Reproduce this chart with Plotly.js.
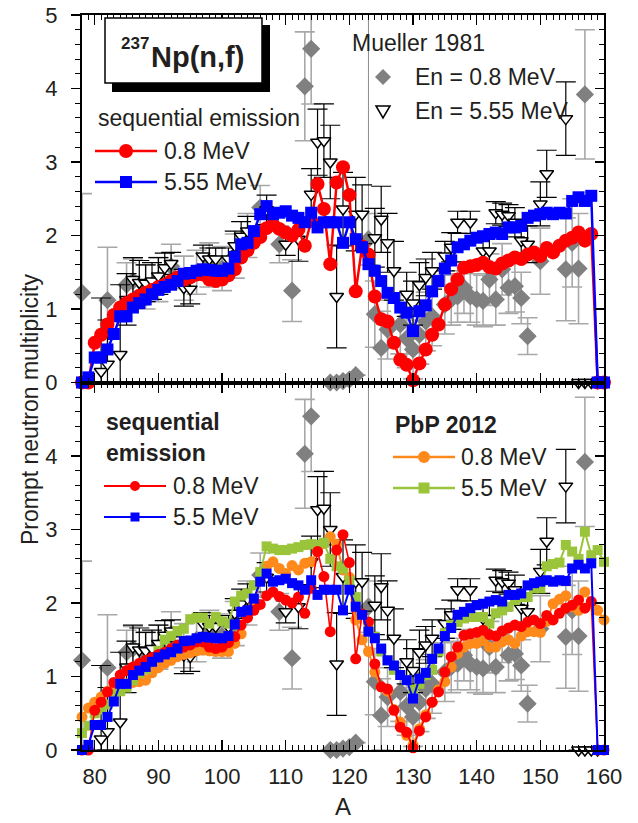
<!DOCTYPE html>
<html>
<head>
<meta charset="utf-8">
<script src="https://cdn.plot.ly/plotly-3.0.1.min.js"></script>
<style>html,body{margin:0;padding:0;background:#fff;}#chart{width:638px;height:823px;}</style>
</head>
<body>
<div id="chart"></div>
<script>
// ---------------- DATA ----------------
const massA = [78,79,80,81,82,83,84,85,86,87,88,89,90,91,92,93,94,95,96,97,98,99,100,101,102,103,104,105,106,107,108,109,110,111,112,113,114,115,116,117,118,119,120,121,122,123,124,125,126,127,128,129,130,131,132,133,134,135,136,137,138,139,140,141,142,143,144,145,146,147,148,149,150,151,152,153,154,155,156,157,158,159,160];

// sequential emission, En = 0.8 MeV (red)
const seq08 = [0,0,0.54,0.65,0.79,0.92,1.02,1.08,1.13,1.18,1.22,1.26,1.30,1.33,1.38,1.43,1.40,1.43,1.47,1.47,1.40,1.38,1.40,1.46,1.54,1.70,1.80,1.90,1.98,2.10,2.15,2.09,2.04,2.00,2.08,1.86,2.20,2.70,2.36,1.61,2.72,2.93,2.55,1.24,1.85,1.74,1.17,0.86,0.83,0.54,0.31,0.24,0.03,0.26,0.45,0.65,0.79,1.06,1.27,1.40,1.56,1.58,1.60,1.63,1.57,1.55,1.62,1.66,1.70,1.68,1.74,1.77,1.72,1.83,1.77,1.86,1.93,1.97,2.04,1.93,2.02,0,0];

// sequential emission, En = 5.55 MeV (blue)
const seq55 = [0,0.07,0.34,0.34,0.45,0.66,0.90,0.90,1.02,1.08,1.13,1.20,1.26,1.30,1.33,1.38,1.48,1.49,1.52,1.54,1.53,1.52,1.52,1.55,1.71,1.88,1.90,2.06,2.29,2.40,2.29,2.31,2.33,2.27,2.24,2.18,2.31,2.11,2.18,2.18,2.18,1.90,2.18,1.95,1.84,1.61,1.52,1.38,1.22,1.15,1.02,0.95,0.70,0.97,1.05,1.24,1.38,1.55,1.66,1.84,1.88,1.93,1.97,1.99,2.02,2.04,2.02,2.11,2.11,2.13,2.24,2.27,2.29,2.31,2.29,2.31,2.30,2.47,2.52,2.47,2.54,0,0];

// PbP 2012, En = 0.8 MeV (orange)
const pbp08 = [0.45,0.57,0.65,0.72,0.80,0.86,0.88,0.90,0.92,0.93,0.95,1.05,1.12,1.18,1.22,1.27,1.30,1.32,1.35,1.36,1.35,1.34,1.34,1.34,1.45,1.58,1.85,2.00,2.30,2.50,2.56,2.47,2.40,2.51,2.45,2.54,2.56,2.70,2.81,2.90,2.80,2.45,2.35,1.77,1.50,1.34,1.06,0.86,0.80,0.55,0.38,0.20,0.07,0.29,0.48,0.65,0.82,0.93,1.13,1.31,1.40,1.45,1.45,1.49,1.40,1.40,1.47,1.50,1.45,1.55,1.61,1.61,1.60,1.75,1.99,2.05,2.10,1.95,1.90,2.15,2.00,1.90,1.77];

// PbP 2012, En = 5.5 MeV (green)
const pbp55 = [0.23,0.33,0.50,0.55,0.62,0.75,0.80,0.85,0.95,1.05,1.10,1.20,1.35,1.50,1.55,1.62,1.65,1.78,1.80,1.80,1.72,1.81,1.75,1.72,2.02,2.10,2.13,2.24,2.42,2.77,2.74,2.72,2.72,2.74,2.76,2.79,2.80,2.79,2.82,2.60,2.50,2.47,2.30,2.08,1.85,1.65,1.54,1.34,1.22,1.09,1.02,0.95,0.82,0.90,1.02,1.09,1.34,1.59,1.70,1.74,1.79,1.81,1.81,1.81,1.72,1.86,1.90,1.95,2.04,2.08,2.08,2.20,2.20,2.50,2.53,2.55,2.79,2.70,2.60,2.97,2.65,2.72,2.56];

// Mueller 1981, En = 0.8 MeV (grey diamonds)
const mu08A = [78,82,85,86,88,90,92,94,96,98,100,102,104,106,109,111,113,114,117,118,119,120,121,123,124,125,126,128,129,130,131,132,133,135,136,137,138,139,140,141,142,143,144,145,146,147,148,150,154,155,156,157];
const mu08V = [1.22,1.12,1.33,1.38,1.30,1.40,1.58,1.42,1.50,1.60,1.55,1.72,2.00,2.38,1.88,1.25,4.03,4.54,0,0,0.02,0.04,0.10,1.95,0.93,0.47,0.72,0.79,0.60,0.45,0.65,0.83,0.90,1.06,1.13,1.17,1.29,1.17,1.13,1.11,1.40,1.13,1.54,1.29,1.31,1.15,0.63,1.65,1.54,1.90,1.55,3.92];
const mu08E = [1.35,0.72,0.30,0.30,0.30,0.30,0.30,0.30,0.30,0.30,0.30,0.30,0.30,0.30,0.25,0.42,0.74,0.75,0,0,0,0,0,0.35,0.45,0.50,0.40,0.40,0.40,0.40,0.40,0.40,0.40,0.40,0.35,0.35,0.35,0.35,0.35,0.35,0.35,0.35,0.35,0.35,0.35,0.35,0.25,0.45,0.70,0.60,0.75,0.88];

// Mueller 1981, En = 5.55 MeV (open triangles)
const mu55A = [81,82,84,85,86,87,88,89,90,91,92,94,95,97,98,99,101,102,103,104,107,110,112,114,115,116,117,118,119,121,122,124,125,126,127,129,130,131,132,133,135,136,137,139,141,142,143,144,145,146,147,148,150,151,154,156,157,158,159];
const mu55V = [0.15,0.25,0.38,1.13,1.40,1.36,1.35,1.38,1.45,1.56,1.62,1.29,1.27,1.72,1.68,1.68,1.68,1.86,1.99,2.06,2.35,1.88,1.95,2.56,3.27,3.29,3.00,1.17,2.36,2.29,2.29,1.97,2.22,1.90,1.52,1.20,1.08,1.33,1.43,1.52,1.72,1.84,2.18,2.18,1.79,1.79,2.31,2.29,2.27,2.18,1.93,1.88,2.43,2.84,3.59,0,0,0,0];
const mu55E = [1.00,0.60,0.95,0.35,0.30,0.30,0.25,0.25,0.25,0.20,0.15,0.25,0.20,0.15,0.15,0.15,0.15,0.20,0.20,0.20,0.20,0.15,0.30,0.35,0.45,0.50,0.50,0.70,0.50,0.50,0.40,0.40,0.45,0.40,0.40,0.30,0.30,0.30,0.25,0.25,0.20,0.20,0.15,0.15,0.20,0.20,0.15,0.15,0.15,0.20,0.20,0.25,0.30,0.32,0.50,0,0,0,0];

const xTicks = [80,90,100,110,120,130,140,150,160];
const yTicksTop = [0,1,2,3,4,5];
const yTicksBottom = [0,1,2,3,4];
const refLineA = 123;

// ---------------- STYLE ----------------
const FONT = 'Liberation Sans, Arial, sans-serif';
const TXT = '#231f20';
const RED = '#ff0000', BLUE = '#0000ff', ORANGE = '#ff8a1c', GREEN = '#9ac43a';
const GREY = '#808080', GREYBAR = '#a8a8a8';

function muellerTraces(xa, ya) {
  return [
    {type:'scatter', mode:'markers', x:mu08A, y:mu08V, xaxis:xa, yaxis:ya, cliponaxis:false,
     marker:{symbol:'diamond', size:14, color:GREY, line:{width:0}},
     error_y:{type:'data', array:mu08E, arrayminus:mu08E.map((e,i)=>Math.min(e,mu08V[i])), color:GREYBAR, thickness:1.6, width:10},
     showlegend:false, hoverinfo:'skip'},
    {type:'scatter', mode:'markers', x:mu55A, y:mu55V, xaxis:xa, yaxis:ya, cliponaxis:false,
     marker:{symbol:'triangle-down', size:12, color:'#ffffff', line:{width:1.5, color:'#000'}},
     error_y:{type:'data', array:mu55E, arrayminus:mu55E.map((e,i)=>Math.min(e,mu55V[i])), color:'#000', thickness:1.2, width:10},
     showlegend:false, hoverinfo:'skip'}
  ];
}
function lineTrace(y, xa, ya, color, symbol, size, lw) {
  return {type:'scatter', mode:'lines+markers', x:massA, y:y, xaxis:xa, yaxis:ya, cliponaxis:false,
    line:{color:color, width:lw}, marker:{symbol:symbol, size:size, color:color, line:{width:0}},
    showlegend:false, hoverinfo:'skip'};
}

const traces = [].concat(
  muellerTraces('x','y'),
  [lineTrace(seq08,'x','y',RED,'circle',14,2.5),
   lineTrace(seq55,'x','y',BLUE,'square',12,2.5)],
  muellerTraces('x2','y2'),
  [lineTrace(pbp08,'x2','y2',ORANGE,'circle',11,2),
   lineTrace(pbp55,'x2','y2',GREEN,'square',10,2),
   lineTrace(seq08,'x2','y2',RED,'circle',11,1.6),
   lineTrace(seq55,'x2','y2',BLUE,'square',10,2)],
  [{type:'scatter', x:[], y:[], xaxis:'x', yaxis:'y3', showlegend:false},
   {type:'scatter', x:[], y:[], xaxis:'x2', yaxis:'y4', showlegend:false}]
);

// ---------------- LAYOUT ----------------
const L = 82, R = 604, T = 15, B = 750;
const W = 638, H = 823;
const px = v => (v - L) / (R - L);
const py = v => (B - v) / (B - T);

const xCommon = {range:[78,160], tickvals:xTicks, ticks:'inside', ticklen:10, tickwidth:1.5, tickcolor:'#000',
  mirror:'ticks', showline:true, linewidth:2, linecolor:'#000', showgrid:false, zeroline:false,
  minor:{dtick:1, tick0:0, ticks:'inside', ticklen:5, tickwidth:1, tickcolor:'#000'},
  tickfont:{family:FONT, size:22, color:TXT}};
const yLeft = {range:[0,5], ticks:'outside', ticklen:9, tickwidth:1.5, tickcolor:'#000', showline:true, linewidth:2,
  linecolor:'#000', showgrid:false, zeroline:false, ticklabelstandoff:9,
  minor:{dtick:0.2, tick0:0, ticks:'outside', ticklen:5, tickwidth:1, tickcolor:'#000'},
  tickfont:{family:FONT, size:22, color:TXT}};
const yRight = {range:[0,5], side:'right', ticks:'inside', ticklen:9, tickwidth:1.5, tickcolor:'#000', showline:true,
  linewidth:2, linecolor:'#000', showgrid:false, zeroline:false, showticklabels:false,
  minor:{dtick:0.2, tick0:0, ticks:'inside', ticklen:5, tickwidth:1, tickcolor:'#000'}};

const ann = (text, x, y, size, extra) => Object.assign({text:text, xref:'paper', yref:'paper', x:px(x), y:py(y),
  xanchor:'left', yanchor:'middle', showarrow:false, font:{family:FONT, size:size, color:TXT}}, extra||{});

const annotations = [
  ann('<b>237</b>', 119, 44, 17),
  ann('<b>Np(n,f)</b>', 149, 57, 29),
  ann('sequential emission', 96, 118, 23),
  ann('0.8 MeV', 162, 151, 23),
  ann('5.55 MeV', 162, 182, 23),
  ann('Mueller 1981', 350, 43, 23),
  ann('En = 0.8 MeV', 413, 77, 23),
  ann('En = 5.55 MeV', 413, 111, 23),
  ann('<b>sequential</b>', 104, 422, 23),
  ann('<b>emission</b>', 104, 453, 23),
  ann('0.8 MeV', 171, 486, 23),
  ann('5.5 MeV', 171, 517, 23),
  ann('<b>PbP 2012</b>', 393, 425, 23),
  ann('0.8 MeV', 459, 457, 23),
  ann('5.5 MeV', 459, 488, 23),
  ann('Prompt neutron multiplicity', 30, 410, 23, {xanchor:'center', textangle:-90}),
  ann('A', 343, 806, 24, {xanchor:'center'})
];

function pxShape(type, cx, cy, half, color, extra) {
  return Object.assign({type:type, xref:'paper', yref:'paper', xsizemode:'pixel', ysizemode:'pixel',
    xanchor:px(cx), yanchor:py(cy), x0:-half, x1:half, y0:-half, y1:half,
    fillcolor:color, line:{width:0}}, extra||{});
}
function legLine(x0, x1, y, color, w) {
  return {type:'line', xref:'paper', yref:'paper', x0:px(x0), x1:px(x1), y0:py(y), y1:py(y), line:{color:color, width:w}};
}

const shapes = [
  {type:'line', xref:'x', yref:'paper', x0:refLineA, x1:refLineA, y0:0, y1:1, layer:'below', line:{color:'#8c8c8c', width:1}},
  {type:'rect', xref:'paper', yref:'paper', x0:px(112), x1:px(270), y0:py(92), y1:py(25), fillcolor:'#000', line:{width:0}},
  {type:'rect', xref:'paper', yref:'paper', x0:px(105), x1:px(262), y0:py(83), y1:py(18), fillcolor:'#fff', line:{color:'#000', width:1.5}},
  legLine(95, 157, 151, RED, 2.5), pxShape('circle', 126, 151, 7, RED),
  legLine(95, 157, 182, BLUE, 2.5), pxShape('rect', 126, 182, 6, BLUE),
  {type:'path', xref:'paper', yref:'paper', xsizemode:'pixel', ysizemode:'pixel', xanchor:px(383), yanchor:py(77),
   path:'M0,8 L8,0 L0,-8 L-8,0 Z', fillcolor:GREY, line:{width:0}},
  {type:'path', xref:'paper', yref:'paper', xsizemode:'pixel', ysizemode:'pixel', xanchor:px(383), yanchor:py(111),
   path:'M-7,5 L7,5 L0,-7 Z', fillcolor:'#fff', line:{width:1.5, color:'#000'}},
  legLine(104, 166, 486, RED, 1.8), pxShape('circle', 135, 486, 5, RED),
  legLine(104, 166, 517, BLUE, 2), pxShape('rect', 135, 517, 4.5, BLUE),
  legLine(393, 455, 457, ORANGE, 2.5), pxShape('circle', 424, 457, 6, ORANGE),
  legLine(393, 455, 488, GREEN, 2.5), pxShape('rect', 424, 488, 5.5, GREEN)
];

const layout = {
  width:W, height:H, margin:{l:L, r:W-R, t:T, b:H-B}, paper_bgcolor:'#fff', plot_bgcolor:'rgba(0,0,0,0)',
  font:{family:FONT, color:TXT}, showlegend:false,
  xaxis:Object.assign({}, xCommon, {anchor:'y', showticklabels:false}),
  xaxis2:Object.assign({}, xCommon, {anchor:'y2', matches:'x', showticklabels:true, ticklabelstandoff:6}),
  yaxis:Object.assign({}, yLeft, {domain:[0.5,1], anchor:'x', tickvals:yTicksTop}),
  yaxis2:Object.assign({}, yLeft, {domain:[0,0.5], anchor:'x2', tickvals:yTicksBottom}),
  yaxis3:Object.assign({}, yRight, {overlaying:'y', anchor:'x', tickvals:yTicksTop}),
  yaxis4:Object.assign({}, yRight, {overlaying:'y2', anchor:'x2', tickvals:yTicksBottom}),
  annotations:annotations, shapes:shapes
};

Plotly.newPlot('chart', traces, layout, {displayModeBar:false, staticPlot:true});
</script>
</body>
</html>
